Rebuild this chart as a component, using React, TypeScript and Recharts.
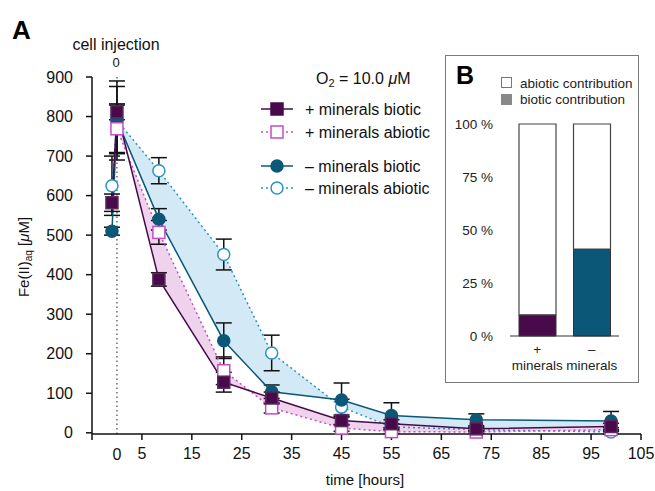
import {
  Area,
  Bar,
  BarChart,
  Cell,
  ComposedChart,
  ErrorBar,
  Line,
  ReferenceLine,
  XAxis,
  YAxis
} from "recharts";

// sampling times (hours) relative to cell injection
const times = [-1, 0, 8.4, 21.4, 31, 45, 55, 72, 99];

const plusBiotic = [582, 812, 388, 128, 88, 31, 23, 10, 16];
const plusBioticErr = [22, 20, 17, 25, 15, 10, 10, 5, 8];
const plusAbiotic = [null, 769, 507, 157, 63, 12, 3, 2, 8];
const plusAbioticErr = [null, 60, 30, 35, 13, 8, 5, 3, 5];
const minusBiotic = [510, 791, 540, 233, 104, 83, 44, 33, 30];
const minusBioticErr = [10, 85, 27, 45, 17, 43, 32, 15, 24];
const minusAbiotic = [625, 790, 663, 451, 202, 65, 15, 8, 2];
const minusAbioticErr = [75, 100, 33, 39, 45, 20, 8, 5, 5];

const yTicks = [0, 100, 200, 300, 400, 500, 600, 700, 800, 900];
const xTicks = [-5, 5, 15, 25, 35, 45, 55, 65, 75, 85, 95, 105];

// inset B
const bCategories = ["+", "–"];
const bioticShare = [10, 41];
const abioticShare = [90, 59];
const pctTicks = [0, 25, 50, 75, 100];

const PURPLE = "#480a4b";
const MAGENTA = "#c54ec6";
const TEAL = "#0b5778";
const SKY = "#2a93c2";
const FONT = "'Liberation Sans', Arial, Helvetica, sans-serif";

const rows = times.map((t, i) => ({
  t,
  pb: plusBiotic[i],
  pbErr: plusBioticErr[i],
  pa: plusAbiotic[i],
  paErr: plusAbioticErr[i],
  mb: minusBiotic[i],
  mbErr: minusBioticErr[i],
  ma: minusAbiotic[i],
  maErr: minusAbioticErr[i],
  plusRange: t >= 0 && plusAbiotic[i] != null ? [plusBiotic[i], plusAbiotic[i]] : null,
  minusRange: t >= 0 ? [minusBiotic[i], minusAbiotic[i]] : null
}));

const barRows = bCategories.map((c, i) => ({ name: c, biotic: bioticShare[i], abiotic: abioticShare[i] }));
const barColors = [PURPLE, TEAL];

const squareDot = (fill: string, stroke: string) => (p: any) => {
  if (p.cx == null || p.cy == null || p.value == null) return <g key={p.index} />;
  return (
    <rect key={p.index} x={p.cx - 6} y={p.cy - 6} width={12} height={12} fill={fill} stroke={stroke} strokeWidth={1.5} />
  );
};

const circleDot = (fill: string, stroke: string) => (p: any) => {
  if (p.cx == null || p.cy == null || p.value == null) return <g key={p.index} />;
  return <circle key={p.index} cx={p.cx} cy={p.cy} r={6} fill={fill} stroke={stroke} strokeWidth={1.5} />;
};

function LegendRow({ y, color, dashed, shape, filled, label }: any) {
  return (
    <g>
      <line x1={261} x2={293} y1={y} y2={y} stroke={color} strokeWidth={1.5} strokeDasharray={dashed ? "2 3" : undefined} />
      {shape === "square" ? (
        <rect x={271} y={y - 6} width={12} height={12} fill={filled ? color : "#fff"} stroke={color} strokeWidth={1.5} />
      ) : (
        <circle cx={277} cy={y} r={6} fill={filled ? color : "#fff"} stroke={color} strokeWidth={1.5} />
      )}
      <text x={305} y={y + 6} fontSize={16} fill="#111">
        {label}
      </text>
    </g>
  );
}

function BTick({ x, y, payload }: any) {
  return (
    <g>
      <text x={x} y={y + 10} textAnchor="middle" fontSize={13.5} fill="#222">
        {payload.value}
      </text>
      <text x={x} y={y + 26} textAnchor="middle" fontSize={13.5} fill="#222">
        minerals
      </text>
    </g>
  );
}

export default function App() {
  return (
    <div style={{ position: "absolute", left: 0, top: 0, width: 655, height: 491, background: "#fff", fontFamily: FONT }}>
      <ComposedChart width={655} height={491} data={rows} margin={{ top: 77, right: 14, bottom: 27, left: 0 }}>
        <XAxis
          type="number"
          dataKey="t"
          domain={[-5, 105]}
          ticks={xTicks}
          allowDataOverflow
          tickFormatter={(v) => (v === -5 ? "" : String(v))}
          tick={{ fontSize: 16, fill: "#111", fontFamily: FONT }}
          tickSize={6}
          tickMargin={8}
          height={30}
          stroke="#111"
          axisLine={{ stroke: "#111", strokeWidth: 1.5 }}
          tickLine={{ stroke: "#111", strokeWidth: 1.5 }}
        />
        <YAxis
          domain={[0, 900]}
          ticks={yTicks}
          width={92}
          tick={{ fontSize: 16, fill: "#111", fontFamily: FONT }}
          tickSize={6}
          tickMargin={13}
          axisLine={{ stroke: "#111", strokeWidth: 1.5 }}
          tickLine={{ stroke: "#111", strokeWidth: 1.5 }}
        />
        <ReferenceLine x={0} stroke="#222" strokeDasharray="1.5 3" />
        <Area dataKey="minusRange" type="linear" fill="#d3eaf6" fillOpacity={1} stroke="none" isAnimationActive={false} />
        <Area dataKey="plusRange" type="linear" fill="#efd3ec" fillOpacity={1} stroke="none" isAnimationActive={false} />
        <Line
          dataKey="ma"
          type="linear"
          stroke={SKY}
          strokeWidth={1.5}
          strokeDasharray="2 3"
          dot={circleDot("#fff", SKY)}
          isAnimationActive={false}
        >
          <ErrorBar dataKey="maErr" width={8} stroke="#111" strokeWidth={1.5} direction="y" />
        </Line>
        <Line dataKey="mb" type="linear" stroke={TEAL} strokeWidth={1.5} dot={circleDot(TEAL, TEAL)} isAnimationActive={false}>
          <ErrorBar dataKey="mbErr" width={8} stroke="#111" strokeWidth={1.5} direction="y" />
        </Line>
        <Line
          dataKey="pa"
          type="linear"
          stroke={MAGENTA}
          strokeWidth={1.5}
          strokeDasharray="2 3"
          dot={squareDot("#fff", MAGENTA)}
          isAnimationActive={false}
        >
          <ErrorBar dataKey="paErr" width={8} stroke="#111" strokeWidth={1.5} direction="y" />
        </Line>
        <Line dataKey="pb" type="linear" stroke={PURPLE} strokeWidth={1.5} dot={squareDot(PURPLE, "#5a2a5c")} isAnimationActive={false}>
          <ErrorBar dataKey="pbErr" width={8} stroke="#111" strokeWidth={1.5} direction="y" />
        </Line>
      </ComposedChart>

      <svg
        width={655}
        height={491}
        style={{ position: "absolute", left: 0, top: 0, pointerEvents: "none", fontFamily: FONT }}
      >
        <text x={12} y={39} fontSize={26} fontWeight="bold" fill="#000">
          A
        </text>
        <text x={116} y={50} textAnchor="middle" fontSize={16} fill="#111">
          cell injection
        </text>
        <text x={116} y={67} textAnchor="middle" fontSize={13} fill="#111">
          0
        </text>
        <text x={117} y={460} textAnchor="middle" fontSize={16} fill="#111">
          0
        </text>
        <text x={365} y={485} textAnchor="middle" fontSize={15} fill="#111">
          time [hours]
        </text>
        <text transform="translate(29,257) rotate(-90)" textAnchor="middle" fontSize={15} fill="#111">
          Fe(II)
          <tspan fontSize={10} dy={3}>
            aq
          </tspan>
          <tspan dy={-3}> [</tspan>
          <tspan fontStyle="italic">μ</tspan>
          <tspan>M]</tspan>
        </text>
        <text x={316} y={84} fontSize={16} fill="#111">
          O<tspan fontSize={11} dy={3}>2</tspan>
          <tspan dy={-3}> = 10.0 </tspan>
          <tspan fontStyle="italic">μ</tspan>
          <tspan>M</tspan>
        </text>
        <LegendRow y={109} color={PURPLE} shape="square" filled label="+ minerals biotic" />
        <LegendRow y={132} color={MAGENTA} shape="square" dashed label="+ minerals abiotic" />
        <LegendRow y={166} color={TEAL} shape="circle" filled label="– minerals biotic" />
        <LegendRow y={188} color={SKY} shape="circle" dashed label="– minerals abiotic" />
      </svg>

      <div
        style={{
          position: "absolute",
          left: 445,
          top: 55,
          width: 194,
          height: 328,
          boxSizing: "border-box",
          border: "1px solid #7a7a7a",
          background: "#fff"
        }}
      >
        <BarChart width={192} height={326} data={barRows} margin={{ top: 68, right: 19, bottom: 6, left: 0 }} barSize={37}>
          <XAxis
            dataKey="name"
            tick={<BTick />}
            tickLine={false}
            axisLine={{ stroke: "#333", strokeWidth: 1.2 }}
            height={40}
            interval={0}
          />
          <YAxis
            domain={[0, 100]}
            ticks={pctTicks}
            width={64}
            axisLine={false}
            tickLine={false}
            tickMargin={11}
            tickFormatter={(v) => `${v} %`}
            tick={{ fontSize: 13.5, fill: "#222", fontFamily: FONT }}
          />
          <Bar dataKey="biotic" stackId="s" stroke="#333" strokeWidth={1} isAnimationActive={false}>
            {barRows.map((r, i) => (
              <Cell key={r.name} fill={barColors[i]} />
            ))}
          </Bar>
          <Bar dataKey="abiotic" stackId="s" fill="#fff" stroke="#444" strokeWidth={1.2} isAnimationActive={false} />
        </BarChart>
        <svg width={192} height={60} style={{ position: "absolute", left: 0, top: 0, fontFamily: FONT }}>
          <text x={10} y={28} fontSize={25} fontWeight="bold" fill="#000">
            B
          </text>
          <rect x={55.5} y={21.5} width={10} height={10} fill="#fff" stroke="#777" />
          <text x={74} y={32} fontSize={13.5} fill="#222">
            abiotic contribution
          </text>
          <rect x={55} y={38} width={11} height={11} fill="#888" />
          <text x={74} y={48} fontSize={13.5} fill="#222">
            biotic contribution
          </text>
        </svg>
      </div>
    </div>
  );
}
